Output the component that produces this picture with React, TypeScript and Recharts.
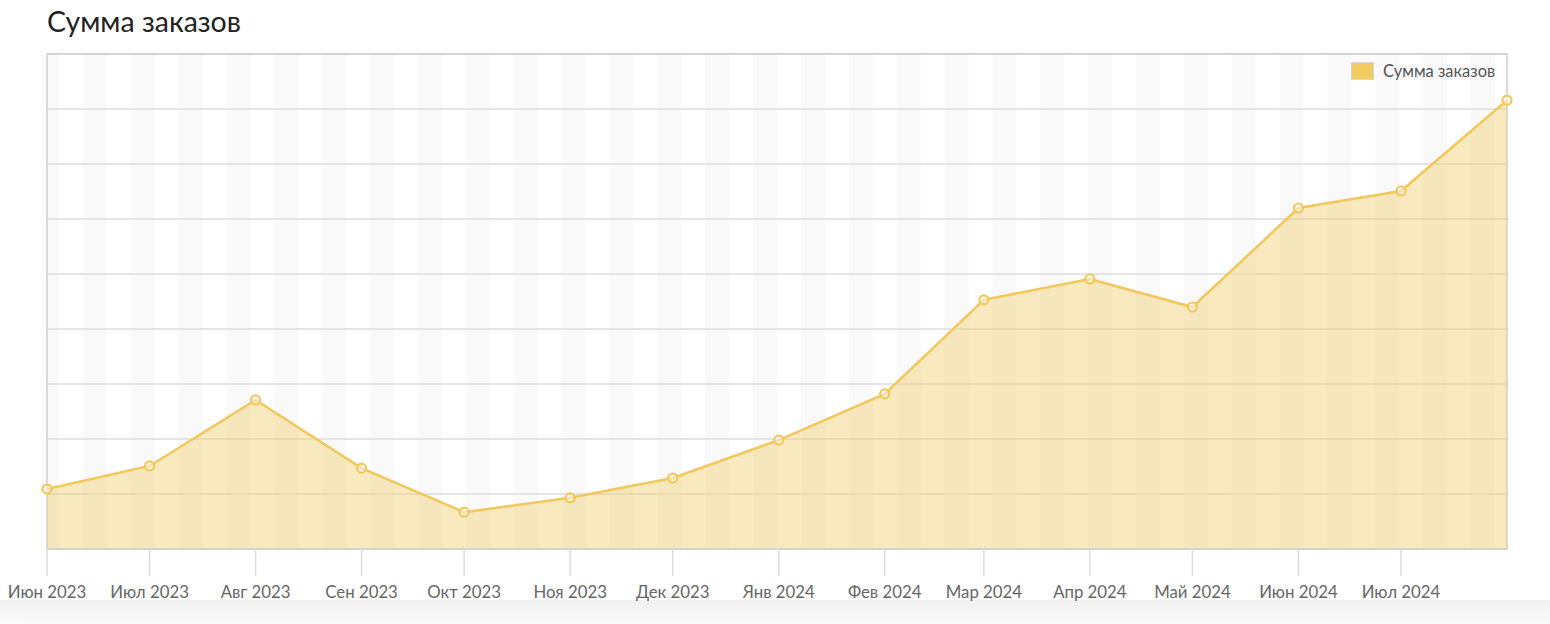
import { ComposedChart, Area, XAxis, YAxis, CartesianGrid, ReferenceArea } from "recharts";

const months = [
  "2023-06-01", "2023-07-01", "2023-08-01", "2023-09-01", "2023-10-01",
  "2023-11-01", "2023-12-01", "2024-01-01", "2024-02-01", "2024-03-01",
  "2024-04-01", "2024-05-01", "2024-06-01", "2024-07-01", "2024-08-01",
];
const orderSums = [1.09, 1.51, 2.71, 1.47, 0.67, 0.93, 1.29, 1.98, 2.82, 4.53, 4.91, 4.4, 6.2, 6.51, 8.16];
const tickLabels = [
  "Июн 2023", "Июл 2023", "Авг 2023", "Сен 2023", "Окт 2023", "Ноя 2023", "Дек 2023",
  "Янв 2024", "Фев 2024", "Мар 2024", "Апр 2024", "Май 2024", "Июн 2024", "Июл 2024",
];

const DAY = 86400000;
const start = Date.parse(months[0]);
const toDay = (d: string) => (Date.parse(d) - start) / DAY;

const data = months.map((m, i) => ({ day: toDay(m), sum: orderSums[i] }));
const lastDay = data[data.length - 1].day;
const tickDays = tickLabels.map((_, i) => toDay(months[i]));

// alternating weekly background bands
const stripes: number[] = [];
for (let c = 0; c - 3.5 < lastDay; c += 14) stripes.push(c);

const LINE = "#f2c75c";
const FILL = "#f2cf6e";

export default function App() {
  return (
    <div
      style={{
        position: "fixed",
        left: 0,
        top: 0,
        width: 1550,
        height: 624,
        background: "#fff",
        overflow: "hidden",
        fontFamily: "Lato, 'Noto Sans', sans-serif",
      }}
    >
      <div
        style={{
          position: "absolute",
          left: -30,
          top: -40,
          width: 1640,
          height: 640,
          borderRadius: 30,
          boxShadow: "0 12px 34px rgba(0,0,0,0.08)",
          background: "#fff",
        }}
      />
      <div style={{ position: "absolute", left: 47, top: 4, fontSize: 28.5, color: "#222" }}>Сумма заказов</div>
      <ComposedChart
        width={1550}
        height={624}
        data={data}
        margin={{ top: 54, right: 43, left: 47, bottom: 15 }}
        style={{ position: "absolute", left: 0, top: 0 }}
      >
        {stripes.map((c) => (
          <ReferenceArea
            key={c}
            x1={c - 3.5}
            x2={c + 3.5}
            y1={0}
            y2={9}
            fill="#f9f9f9"
            fillOpacity={1}
            stroke="none"
            ifOverflow="hidden"
            zIndex={-200}
          />
        ))}
        <CartesianGrid vertical={false} stroke="#dcdcdc" strokeWidth={1.5} />
        <ReferenceArea x1={0} x2={lastDay} y1={0} y2={9} fill="none" stroke="#d0d0d0" strokeWidth={1.5} zIndex={-100} />
        <XAxis
          dataKey="day"
          type="number"
          domain={[0, lastDay]}
          ticks={tickDays}
          tickFormatter={(v: number) => tickLabels[tickDays.indexOf(v)] ?? ""}
          height={60}
          tickSize={27}
          tickMargin={10}
          stroke="#d8d8d8"
          tickLine={{ stroke: "#dcdcdc", strokeWidth: 1.5 }}
          axisLine={{ stroke: "#d0d0d0", strokeWidth: 1.5 }}
          tick={{ fill: "#666", fontSize: 16.8 }}
          interval={0}
        />
        <YAxis hide domain={[0, 9]} ticks={[0, 1, 2, 3, 4, 5, 6, 7, 8, 9]} />
        <Area
          type="linear"
          dataKey="sum"
          stroke={LINE}
          strokeWidth={2.5}
          fill={FILL}
          fillOpacity={0.45}
          dot={{ r: 4.5, fill: "#fff", stroke: LINE, strokeWidth: 2.2 }}
          activeDot={false}
          isAnimationActive={false}
        />
      </ComposedChart>
      <div
        style={{
          position: "absolute",
          left: 1351,
          top: 61,
          display: "flex",
          alignItems: "center",
          fontSize: 16.5,
          color: "#555",
        }}
      >
        <span
          style={{
            width: 21,
            height: 16,
            background: "#f2cb62",
            border: "1px solid #d6d6d6",
            marginRight: 9,
            display: "inline-block",
          }}
        />
        Сумма заказов
      </div>
    </div>
  );
}
